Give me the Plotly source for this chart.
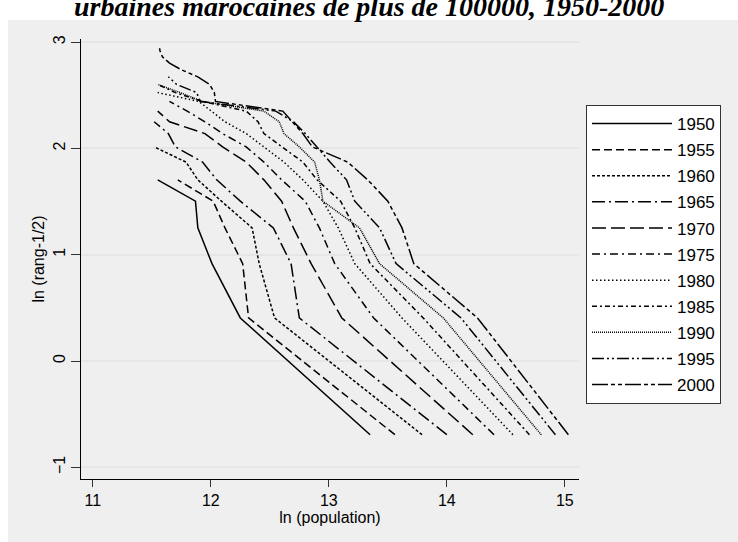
import plotly.graph_objects as go
import numpy as np

years = ["1950", "1955", "1960", "1965", "1970", "1975", "1980", "1985", "1990", "1995", "2000"]

# ln(population) by city rank (rank 1 = largest)
pop_1950 = [13.35, 12.25, 12.01, 11.89, 11.87, 11.55]
pop_1955 = [13.56, 12.32, 12.27, 12.12, 12.02, 11.72]
pop_1960 = [13.79, 12.54, 12.41, 12.35, 12.09, 11.89, 11.79, 11.52]
pop_1965 = [14.00, 12.75, 12.68, 12.53, 12.25, 12.05, 11.93, 11.70, 11.64, 11.52]
pop_1970 = [14.22, 13.11, 12.85, 12.70, 12.60, 12.45, 12.30, 12.10, 11.95, 11.65, 11.55]
pop_1975 = [14.40, 13.38, 13.05, 12.92, 12.80, 12.60, 12.45, 12.30, 12.10, 11.95, 11.80, 11.65]
pop_1980 = [14.56, 13.62, 13.22, 13.08, 12.95, 12.78, 12.62, 12.45, 12.30, 12.12, 12.00, 11.90, 11.55]
pop_1985 = [14.70, 13.80, 13.35, 13.22, 13.10, 12.90, 12.78, 12.60, 12.45, 12.40, 12.30, 11.93, 11.70, 11.55]
pop_1990 = [14.80, 13.97, 13.43, 13.26, 12.95, 12.92, 12.88, 12.75, 12.62, 12.58, 12.45, 11.93, 11.74, 11.55]
pop_1995 = [14.92, 14.12, 13.57, 13.43, 13.22, 13.15, 13.01, 12.90, 12.80, 12.70, 12.55, 11.91, 11.88, 11.71, 11.64]
pop_2000 = [15.03, 14.26, 13.72, 13.62, 13.50, 13.33, 13.16, 12.86, 12.78, 12.69, 12.61, 12.04, 12.03,
            11.99, 11.89, 11.75, 11.65, 11.59, 11.57, 11.56]

series = [pop_1950, pop_1955, pop_1960, pop_1965, pop_1970, pop_1975,
          pop_1980, pop_1985, pop_1990, pop_1995, pop_2000]

dashes = ["solid", "8px,4px", "3px,2px", "13px,4px,2px,4px", "14px,5px", "8px,4px,2px,4px",
          "1.5px,2.5px", "5px,3px,2px,3px", "1px,1px", "12px,3px,2px,3px,2px,3px",
          "16px,3px,4px,3px,4px,3px"]

x_ticks = [11, 12, 13, 14, 15]
y_ticks = [-1, 0, 1, 2, 3]

fig = go.Figure()
for yr, xs, d in zip(years, series, dashes):
    ranks = np.arange(1, len(xs) + 1)
    fig.add_trace(go.Scatter(
        x=xs, y=np.log(ranks - 0.5), mode="lines", name=yr, legendgroup=yr,
        line=dict(color="black", width=1.5, dash=d),
    ))

font = "Liberation Sans, Arial, sans-serif"
fig.update_layout(
    width=738, height=542,
    margin=dict(l=81, r=159, t=39, b=63),
    paper_bgcolor="white", plot_bgcolor="white",
    font=dict(family=font, size=16, color="black"),
    showlegend=True,
    legend=dict(x=1.014, y=0.85, xanchor="left", yanchor="top",
                bordercolor="#333", borderwidth=1, bgcolor="white",
                font=dict(size=17), tracegroupgap=1, itemwidth=80),
    xaxis=dict(range=[10.9, 15.12], tickvals=x_ticks, ticks="outside", ticklen=7,
               tickcolor="#333", showline=True, linecolor="black", linewidth=1,
               showgrid=False, zeroline=False, tickfont=dict(size=16),
               title=dict(text="ln (population)", font=dict(size=16), standoff=1)),
    yaxis=dict(range=[-1.11, 3.03], tickvals=y_ticks, ticks="outside", ticklen=9,
               tickcolor="#333", showline=True, linecolor="black", linewidth=1,
               showgrid=True, gridcolor="#e6e6e6", gridwidth=1.5, zeroline=False,
               tickangle=-90, tickfont=dict(size=16),
               title=dict(text="ln (rang-1/2)", font=dict(size=16), standoff=1)),
    shapes=[dict(type="rect", xref="paper", yref="paper", layer="below",
                 x0=(8 - 81) / 498, x1=(738 - 81) / 498,
                 y0=(479 - 542) / 440, y1=(479 - 20) / 440,
                 fillcolor="#efefef", line=dict(width=0))],
    annotations=[dict(text="<b><i>urbaines marocaines de plus de 100000, 1950-2000</i></b>",
                      xref="paper", yref="paper", x=(369 - 81) / 498, y=(479 - 6) / 440,
                      xanchor="center", yanchor="middle", showarrow=False,
                      font=dict(family="Liberation Serif, Times New Roman, serif", size=28))],
)

fig.write_html("out.html")
